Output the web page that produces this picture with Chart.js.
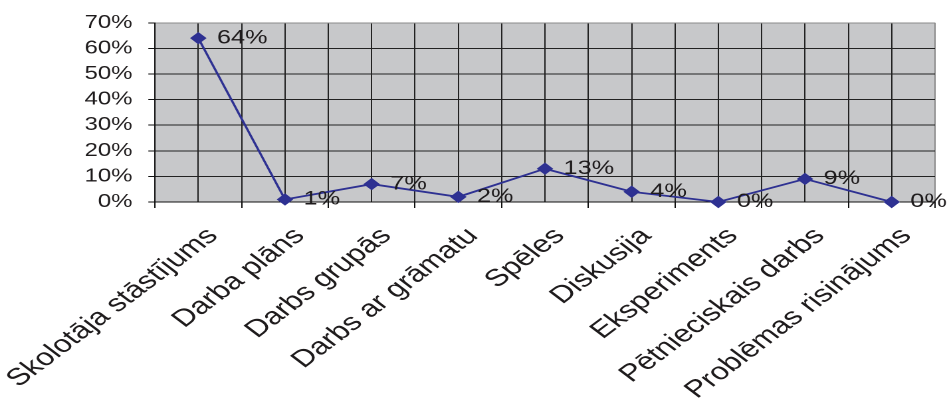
<!DOCTYPE html>
<html>
<head>
<meta charset="utf-8">
<script src="https://cdn.jsdelivr.net/npm/chart.js@4/dist/chart.umd.min.js"></script>
<style>
  html, body { margin: 0; padding: 0; background: #fff; overflow: hidden; }
  /* The chart is laid out narrow and widened horizontally, giving the broad lettering */
  #wrap {
    position: absolute; left: 0; top: 0;
    width: 714px; height: 399px;
    transform: scaleX(1.3291); transform-origin: 0 0;
  }
</style>
</head>
<body>
<div id="wrap"><canvas id="c"></canvas></div>
<script>
// Teaching methods and the share of answers for each
const categories = [
  'Skolotāja stāstījums',
  'Darba plāns',
  'Darbs grupās',
  'Darbs ar grāmatu',
  'Spēles',
  'Diskusija',
  'Eksperiments',
  'Pētnieciskais darbs',
  'Problēmas risinājums'
];
const shares = [64, 1, 7, 2, 13, 4, 0, 9, 0];   // percent
const yMax = 70;
const yStep = 10;

const TEXT = '#1e1b1c';
const GRID = '#222222';
const EDGE = '#8a8a8a';
const FONT = '"Liberation Sans", Arial, Helvetica, sans-serif';

// Each category spans two grid cells; its point sits on the middle line.
const slots = categories.length * 2;
const points = shares.map((v, i) => ({ x: 2 * i + 1, y: v }));

const plotBackground = {
  id: 'plotBackground',
  beforeDraw(chart) {
    const { ctx, chartArea: a } = chart;
    ctx.save();
    ctx.fillStyle = '#c7c8ca';
    ctx.fillRect(a.left, a.top, a.right - a.left, a.bottom - a.top);
    ctx.restore();
  }
};

const valueLabels = {
  id: 'valueLabels',
  afterDatasetsDraw(chart) {
    const { ctx } = chart;
    const meta = chart.getDatasetMeta(0);
    ctx.save();
    ctx.font = '19px ' + FONT;
    ctx.fillStyle = TEXT;
    ctx.textAlign = 'left';
    ctx.textBaseline = 'middle';
    meta.data.forEach((pt, i) => {
      ctx.fillText(shares[i] + '%', pt.x + 14, pt.y);
    });
    ctx.restore();
  }
};

new Chart(document.getElementById('c'), {
  type: 'line',
  data: {
    datasets: [{
      data: points,
      borderColor: '#2e3192',
      backgroundColor: '#2e3192',
      borderWidth: 1.8,
      pointStyle: 'rectRot',
      pointRadius: 5.5,
      pointBorderWidth: 1,
      pointBorderColor: '#2e3192',
      pointBackgroundColor: '#2e3192',
      tension: 0,
      clip: false
    }]
  },
  options: {
    responsive: true,
    maintainAspectRatio: false,
    devicePixelRatio: 2,
    animation: false,
    layout: { padding: { top: 20, right: 10.5, left: 0, bottom: 0 } },
    plugins: {
      legend: { display: false },
      tooltip: { enabled: false }
    },
    scales: {
      x: {
        type: 'linear',
        min: 0,
        max: slots,
        afterBuildTicks(scale) {
          scale.ticks = Array.from({ length: slots + 1 }, (_, i) => ({ value: i }));
        },
        afterFit(scale) {
          scale.height = 197;
          scale.paddingLeft = 0;
          scale.paddingRight = 0;
        },
        border: { display: true, color: '#111', width: 1 },
        grid: {
          color: (c) => (c.index === slots ? EDGE : GRID),
          lineWidth: 1,
          tickLength: 6,
          tickColor: (c) => (c.index % 2 === 0 ? '#111' : 'rgba(0,0,0,0)')
        },
        ticks: {
          autoSkip: false,
          minRotation: 45,
          maxRotation: 45,
          labelOffset: 11,
          padding: 14,
          color: TEXT,
          font: { family: FONT, size: 24 },
          callback: (v) => (v % 2 === 1 ? categories[(v - 1) / 2] : '')
        }
      },
      y: {
        min: 0,
        max: yMax,
        afterFit(scale) { scale.width = 116.6; },
        border: { display: true, color: '#111', width: 1 },
        grid: {
          color: (c) => (c.tick && c.tick.value === yMax ? EDGE : GRID),
          lineWidth: 1,
          tickLength: 5,
          tickColor: '#111'
        },
        ticks: {
          stepSize: yStep,
          padding: 12,
          color: TEXT,
          font: { family: FONT, size: 18 },
          callback: (v) => v + '%'
        }
      }
    }
  },
  plugins: [plotBackground, valueLabels]
});
</script>
</body>
</html>
